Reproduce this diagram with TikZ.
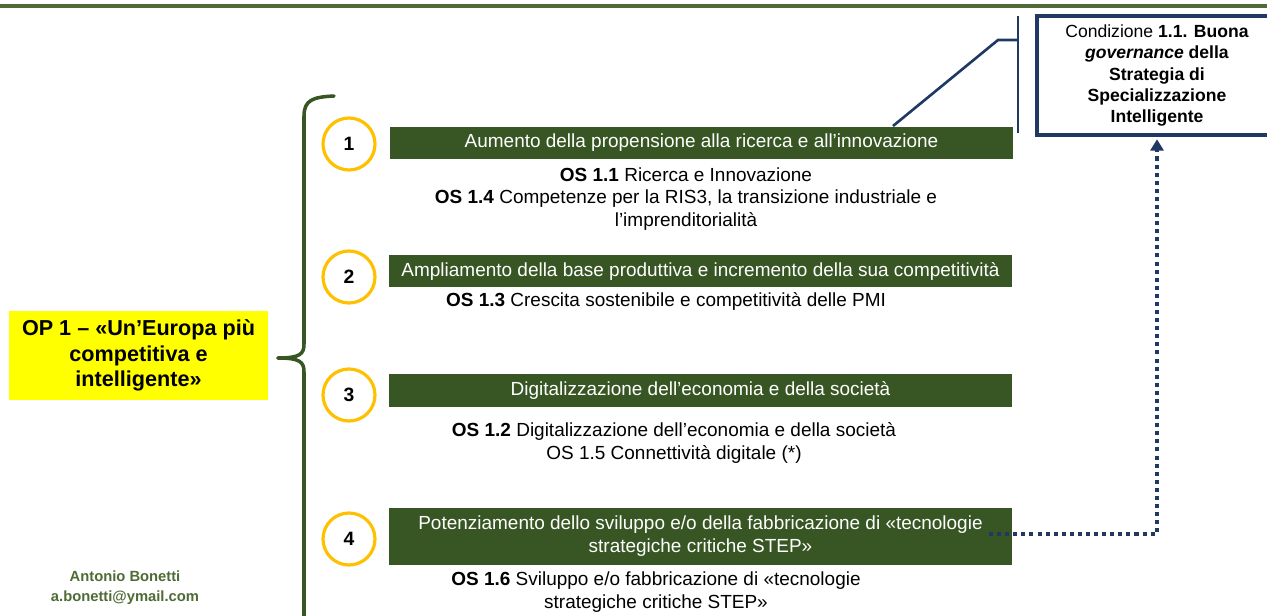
\documentclass[tikz,border=0pt]{standalone}
\usepackage{fontspec}
\setmainfont{Liberation Sans}
\usetikzlibrary{arrows.meta}
\usepackage{xcolor}
\definecolor{verde}{HTML}{375623}
\definecolor{verdelinea}{HTML}{4E6B35}
\definecolor{blunotte}{HTML}{1F3864}
\definecolor{oro}{HTML}{FFC000}
\definecolor{giallo}{HTML}{FFFF00}
\tikzset{
  barra/.style={fill=verde, text=white, minimum width=12.46cm, minimum height=0.66cm,
    inner sep=0pt, align=center, font=\fontsize{10.8}{12.8}\selectfont},
  nota/.style={align=center, inner sep=0pt, font=\fontsize{10.8}{12.8}\selectfont},
  cerchio/.style={circle, draw=oro, line width=1.8pt, fill=white, minimum size=1.04cm,
    inner sep=0pt, font=\fontsize{11}{13}\selectfont\bfseries},
  graffa/.style={draw=verde, line width=2pt, line cap=round},
  richiamo/.style={draw=blunotte, line width=1.5pt},
}
\begin{document}
\begin{tikzpicture}[x=0.02cm, y=-0.02cm]
    \useasboundingbox (0,0) rectangle (1267,615);
    \clip (0,0) rectangle (1267,615);
    % linea del titolo
    \draw[verdelinea, line width=2.1pt] (0,6) -- (1267,6);

    % obiettivo di policy
    \node[fill=giallo, minimum width=5.18cm, minimum height=1.78cm, inner sep=0pt, align=center,
      font=\fontsize{12.3}{14.7}\selectfont\bfseries] (op1) at (138.5,355.5)
      {OP 1 – «Un’Europa più\\competitiva e\\intelligente»};
    % graffa
    \draw[graffa] (334,96) .. controls (313,97) and (304,100) .. (304,116) -- (304,344)
      .. controls (304,354) and (300,358) .. (278,358);
    \draw[graffa] (278,358) .. controls (300,358) and (304,362) .. (304,372) -- (304,625);

    % autore
    \node[text=verdelinea, align=center, font=\fontsize{8.4}{11.3}\selectfont\bfseries] (autore)
      at (125,588) {Antonio Bonetti\\a.bonetti@ymail.com};

    % cerchi numerati
    \node[cerchio] (num1) at (349,144) {1};
    \node[cerchio] (num2) at (349,277) {2};
    \node[cerchio] (num3) at (349,395) {3};
    \node[cerchio] (num4) at (349,539) {4};

    % barre verdi
    \node[barra] (barra1) at (701.5,143) {Aumento della propensione alla ricerca e all’innovazione};
    \node[barra] (barra2) at (700.5,271) {Ampliamento della base produttiva e incremento della sua competitività};
    \node[barra] (barra3) at (700.5,390.5) {Digitalizzazione dell’economia e della società};
    \node[barra, minimum height=1.14cm] (barra4) at (700.5,536)
      {Potenziamento dello sviluppo e/o della fabbricazione di «tecnologie\\strategiche critiche STEP»};

    % obiettivi specifici
    \node[nota] (os1) at (686,199) {\textbf{OS 1.1} Ricerca e Innovazione\\
      \textbf{OS 1.4} Competenze per la RIS3, la transizione industriale e\\l’imprenditorialità};
    \node[nota] (os2) at (666,301) {\textbf{OS 1.3} Crescita sostenibile e competitività delle PMI};
    \node[nota] (os3) at (674,443) {\textbf{OS 1.2} Digitalizzazione dell’economia e della società\\
      OS 1.5 Connettività digitale (*)};
    \node[nota] (os4) at (656,592) {\textbf{OS 1.6} Sviluppo e/o fabbricazione di «tecnologie\\
      strategiche critiche STEP»};

    % condizione abilitante
    \node[draw=blunotte, line width=1.9pt, minimum width=4.8cm, minimum height=2.38cm, inner sep=0pt,
      align=center, font=\fontsize{10}{12}\selectfont] (cond) at (1157,75.5)
      {Condizione \textbf{1.1. Buona}\\\textbf{\textit{governance} della}\\\textbf{Strategia di}\\
      \textbf{Specializzazione}\\\textbf{Intelligente}};

    % richiamo dalla barra 1
    \coordinate (attacco) at (893,126);
    \coordinate (gomito) at (998,40);
    \coordinate (astasu) at (1018,16);
    \coordinate (astagiu) at (1018,133);
    \draw[richiamo] (astasu) -- (astagiu);
    \draw[richiamo] (attacco) -- (gomito) -- (gomito -| astasu);

    % freccia tratteggiata verso la condizione
    \coordinate (partenza) at (989,534);
    \draw[blunotte, line width=2.3pt, dash pattern=on 2.3pt off 2.3pt, shorten >=1.5pt,
      -{Triangle[width=7.5pt,length=6.5pt]}] (partenza) -| (cond.south);
\end{tikzpicture}
\end{document}
